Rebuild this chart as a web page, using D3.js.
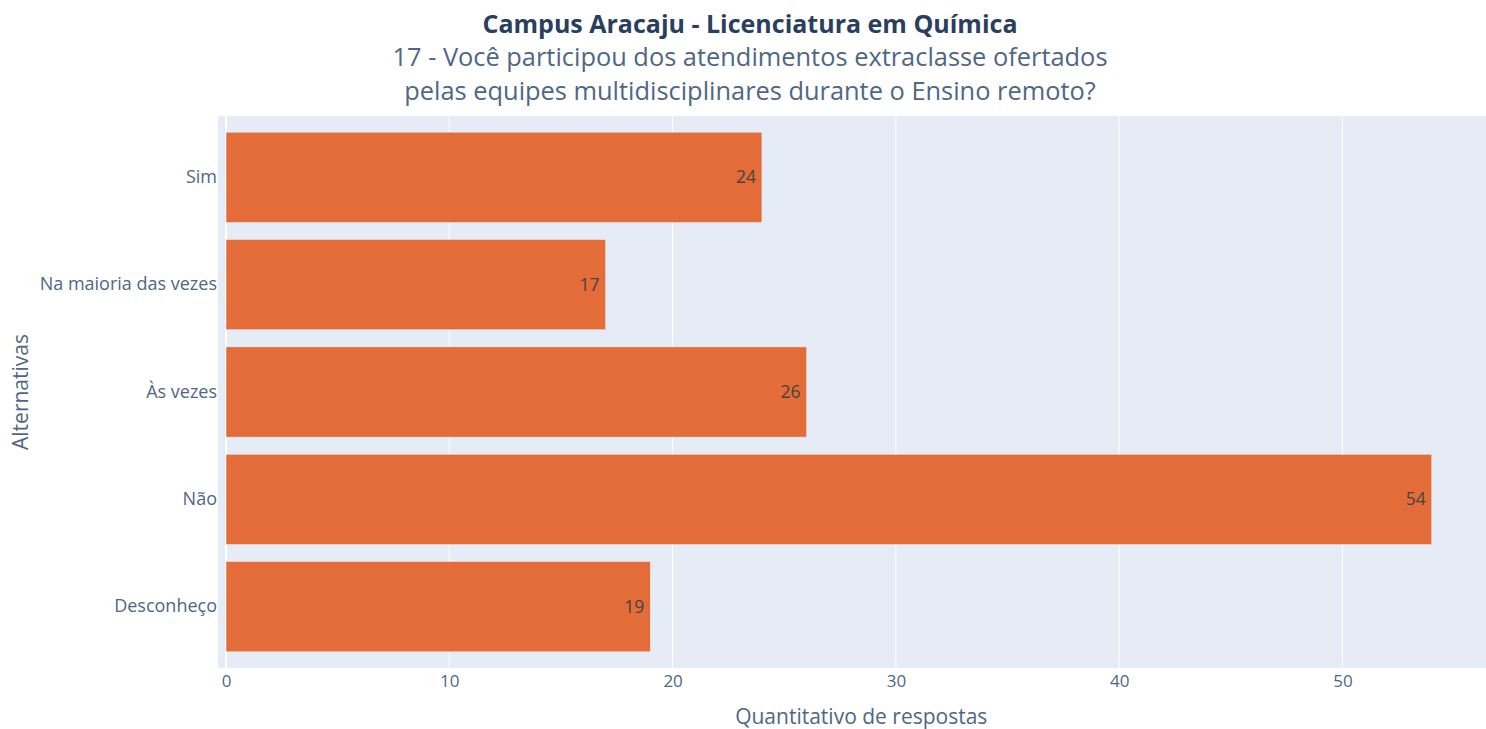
<!DOCTYPE html>
<html>
<head>
<meta charset="utf-8">
<script src="https://cdn.jsdelivr.net/npm/d3@7"></script>
<style>
body { margin: 0; background: #fff; }
svg { font-family: "Open Sans", sans-serif; display: block; }
</style>
</head>
<body>
<svg id="chart" width="1486" height="729"></svg>
<script>
// respostas por alternativa
var categories = ["Sim", "Na maioria das vezes", "Às vezes", "Não", "Desconheço"];
var values = [24, 17, 26, 54, 19];
var xTicks = [0, 10, 20, 30, 40, 50];

var title = "Campus Aracaju - Licenciatura em Química";
var subtitle = ["17 - Você participou dos atendimentos extraclasse ofertados",
  "pelas equipes multidisciplinares durante o Ensino remoto?"];

var margins = { top: 116, bottom: 61, left: 218, right: 0 };
var width = 1486 - margins.left - margins.right;
var height = 729 - margins.top - margins.bottom;

var svg = d3.select("#chart");

// titulo
svg.append("text")
  .attr("x", 750).attr("y", 33)
  .attr("text-anchor", "middle")
  .attr("font-size", 25).attr("font-weight", "bold")
  .attr("fill", "#2a3f5f")
  .text(title);

svg.selectAll(".sub")
  .data(subtitle)
  .enter()
  .append("text")
  .attr("class", "sub")
  .attr("x", 750)
  .attr("y", function(d, i) { return 66 + i * 34; })
  .attr("text-anchor", "middle")
  .attr("font-size", 25.4)
  .attr("fill", "#506784")
  .text(function(d) { return d; });

var g = svg.append("g")
  .attr("transform", "translate(" + margins.left + "," + margins.top + ")");

g.append("rect")
  .attr("width", width).attr("height", height)
  .attr("fill", "#E5ECF6");

var xScale = d3.scaleLinear().domain([-0.36, 56.43]).range([0, width]);
var yScale = d3.scaleBand().domain(categories).range([0, height])
  .paddingInner(0.16).paddingOuter(0.151);

// grade
g.selectAll(".grid")
  .data(xTicks.slice(1))
  .enter()
  .append("line")
  .attr("x1", function(d) { return xScale(d); })
  .attr("x2", function(d) { return xScale(d); })
  .attr("y1", 0).attr("y2", height)
  .attr("stroke", "#fff").attr("stroke-width", 1);

g.append("line")
  .attr("x1", xScale(0)).attr("x2", xScale(0))
  .attr("y1", 0).attr("y2", height)
  .attr("stroke", "#fff").attr("stroke-width", 2);

// barras
g.selectAll(".bar")
  .data(values)
  .enter()
  .append("rect")
  .attr("class", "bar")
  .attr("x", xScale(0))
  .attr("y", function(d, i) { return yScale(categories[i]); })
  .attr("width", function(d) { return xScale(d) - xScale(0); })
  .attr("height", yScale.bandwidth())
  .attr("fill", "#E36C38")
  .attr("stroke", "#E5ECF6").attr("stroke-width", 0.5);

g.selectAll(".lbl")
  .data(values)
  .enter()
  .append("text")
  .attr("class", "lbl")
  .attr("x", function(d) { return xScale(d) - 6; })
  .attr("y", function(d, i) { return yScale(categories[i]) + yScale.bandwidth() / 2; })
  .attr("dy", "0.35em")
  .attr("text-anchor", "end")
  .attr("font-size", 17.5)
  .attr("fill", "#444")
  .text(function(d) { return d; });

// eixos
var xAxis = d3.axisBottom(xScale).tickValues(xTicks).tickSize(0).tickPadding(7);
var xg = g.append("g").attr("transform", "translate(0," + height + ")").call(xAxis);
var yAxis = d3.axisLeft(yScale).tickSize(0).tickPadding(1);
var yg = g.append("g").call(yAxis);

[xg, yg].forEach(function(a) {
  a.select(".domain").remove();
  a.selectAll("text")
    .attr("font-family", "Open Sans, sans-serif")
    .attr("fill", "#506784");
});
xg.selectAll("text").attr("font-size", 17);
yg.selectAll("text").attr("font-size", 18);

svg.append("text")
  .attr("x", margins.left + xScale(28.45)).attr("y", 724)
  .attr("text-anchor", "middle")
  .attr("font-size", 21).attr("fill", "#506784")
  .text("Quantitativo de respostas");

svg.append("text")
  .attr("transform", "translate(28," + (margins.top + height / 2) + ") rotate(-90)")
  .attr("text-anchor", "middle")
  .attr("font-size", 21).attr("fill", "#506784")
  .text("Alternativas");
</script>
</body>
</html>
